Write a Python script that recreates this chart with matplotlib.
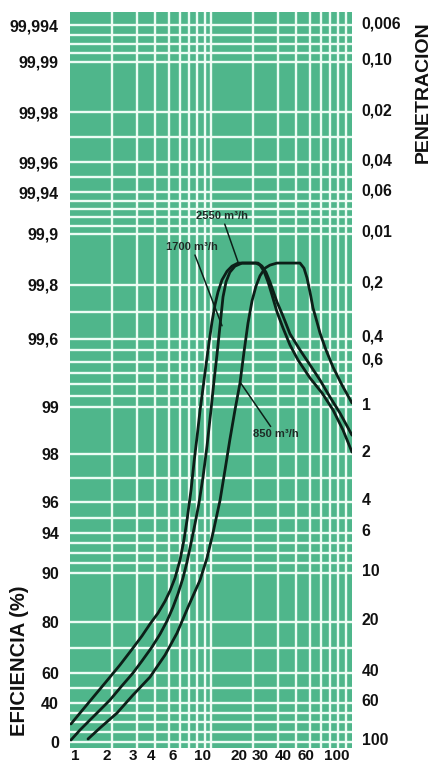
import numpy as np
import matplotlib
matplotlib.use("Agg")
import matplotlib.pyplot as plt
from matplotlib.transforms import ScaledTranslation

# ---------------- data ----------------
size_2550 = [1.016, 1.177, 1.386, 1.632, 1.921, 2.263, 2.797, 3.241, 3.693, 4.21, 4.72, 5.12,
             5.556, 6.03, 6.43, 6.76, 7.22, 7.58, 7.96, 8.37, 8.78, 9.22, 9.68, 10.16, 10.67,
             11.21, 11.97, 12.99, 14.09, 15.54, 20.85, 22.26, 23.76, 25.37, 27.08, 29.38,
             32.4, 36.33, 41.4, 50.37, 61.27, 73.3, 86.35, 100]
eff_2550 = [18.5, 29.7, 41.3, 49.3, 57.3, 63.2, 69.9, 74.7, 79.4, 81.9, 84.3, 86.4,
            89.0, 91.3, 93.3, 94.85, 96.52, 97.67, 98.36, 98.94, 99.168, 99.371, 99.565,
            99.663, 99.726, 99.774, 99.810, 99.827, 99.837, 99.843, 99.843, 99.839, 99.827,
            99.806, 99.763, 99.70, 99.641, 99.547, 99.415, 99.256, 99.124, 98.94, 98.51,
            98.04]

size_1700 = [1.016, 1.177, 1.386, 1.632, 1.921, 2.263, 2.797, 3.241, 3.815, 4.35, 4.875,
             5.377, 5.834, 6.33, 6.76, 7.22, 7.70, 8.22, 8.78, 9.37, 10.0, 10.5, 11.02, 11.6,
             12.17, 12.78, 13.6, 14.8, 16.6, 21.54, 23.0, 24.55, 26.2, 29.38, 32.4, 36.33,
             42.78, 50.37, 59.3, 69.8, 82.2, 100]
eff_1700 = [2.05, 12.3, 22.6, 32.8, 42.0, 50.0, 60.0, 64.8, 70.3, 75.4, 80.3,
            83.1, 85.8, 89.0, 91.1, 93.0, 94.6, 95.97, 97.05, 98.17, 98.94, 99.229, 99.459,
            99.652, 99.756, 99.806, 99.825, 99.837, 99.843, 99.843, 99.837, 99.825, 99.806,
            99.737, 99.685, 99.619, 99.503, 99.371, 99.238, 99.088, 98.87, 98.40]

size_850 = [1.342, 1.632, 2.154, 2.797, 3.693, 4.72, 5.74, 6.87, 8.37, 9.37, 10.33, 11.6,
            12.57, 13.6, 14.8, 16.06, 17.14, 18.3, 19.54, 20.85, 22.26, 24.15, 26.2, 29.38,
            42.78, 45.66, 47.96, 50.37, 52.9, 56.46, 59.3, 65.4, 73.3, 84.9, 100]
eff_850 = [3.1, 14.4, 29.7, 45.3, 57.3, 67.1, 75.8, 83.1, 88.6, 91.5, 94.0, 96.10,
           97.34, 98.30, 98.94, 99.212, 99.485, 99.659, 99.741, 99.796, 99.818, 99.833,
           99.839, 99.843, 99.843, 99.833, 99.814, 99.774, 99.715, 99.663, 99.622, 99.503,
           99.353, 99.194, 99.035]

curve_names = ["2550 m³/h", "1700 m³/h", "850 m³/h"]

eff_ticks = [0, 40, 60, 80, 90, 94, 96, 98, 99, 99.6, 99.8, 99.9, 99.94, 99.96, 99.98,
             99.99, 99.994]
eff_labels = ["0", "40", "60", "80", "90", "94", "96", "98", "99", "99,6", "99,8", "99,9",
              "99,94", "99,96", "99,98", "99,99", "99,994"]

pen_ticks = [100, 60, 40, 20, 10, 6, 4, 2, 1, 0.6, 0.4, 0.2, 0.1, 0.06, 0.04, 0.02, 0.01,
             0.006]
pen_labels = ["100", "60", "40", "20", "10", "6", "4", "2", "1", "0,6", "0,4", "0,2",
              "0,01", "0,06", "0,04", "0,02", "0,10", "0,006"]

size_ticks = [1, 2, 3, 4, 6, 10, 20, 30, 40, 60, 100]
size_labels = ["1", "2", "3", "4", "6", "10", "20", "30", "40", "60", "100"]

# printed lines of the chart paper
paper_h_lines = [0, 10, 20, 30, 40, 50, 60, 70, 80, 90, 91, 92, 93, 94, 95, 96, 97, 98, 99,
                 99.1, 99.2, 99.3, 99.4, 99.5, 99.6, 99.7, 99.8, 99.9, 99.908, 99.916,
                 99.924, 99.932, 99.94, 99.95, 99.96, 99.97, 99.98, 99.99, 99.991, 99.992,
                 99.993, 99.994]
paper_v_lines = [2, 3, 4, 5, 6, 7, 8, 9, 10, 20, 30, 40, 50, 60, 70, 80, 90]

# ---------------- nonlinear efficiency scale of the chart paper ----------------
SCALE_EFF = np.array([-10, 0, 40, 60, 80, 90, 94, 96, 98, 99, 99.6, 99.8, 99.9, 99.94,
                      99.96, 99.98, 99.99, 99.994, 99.997])
SCALE_POS = np.array([751.5, 742, 703, 673, 622.5, 573, 533, 502.5, 454, 407, 339, 285,
                      234, 192.5, 162.5, 112.5, 62, 25.5, -1.5])


def fwd(e):
    return -np.interp(np.asarray(e, dtype=float), SCALE_EFF, SCALE_POS)


def inv(t):
    return np.interp(-np.asarray(t, dtype=float), SCALE_POS[::-1], SCALE_EFF[::-1])


GREEN = "#4fb68b"
WHITE = "#ecfcf4"
DARK = "#0c1f18"
FONT = ["Liberation Sans", "DejaVu Sans"]
plt.rcParams["font.family"] = FONT

W, H = 435, 762
fig = plt.figure(figsize=(W / 100, H / 100), dpi=100)
fig.patch.set_facecolor("white")
ax = fig.add_axes([70 / W, (H - 748) / H, 282 / W, 736 / H])
ax.set_facecolor(GREEN)
ax.set_xscale("log")
ax.set_xlim(1, 100)
ax.set_yscale("function", functions=(fwd, inv))
ylim = (float(inv(-748)), float(inv(-12)))
ax.set_ylim(*ylim)

for v in paper_v_lines:
    ax.axvline(v, color=WHITE, lw=1.7, zorder=1)
for h in paper_h_lines:
    ax.axhline(h, color=WHITE, lw=1.7, zorder=1)

for xs, ys in [(size_2550, eff_2550), (size_1700, eff_1700), (size_850, eff_850)]:
    ax.plot(xs, ys, color=DARK, lw=2.0, zorder=3, solid_joinstyle="round",
            solid_capstyle="round")

ann_style = dict(fontsize=8, fontweight="bold", color="#1d2b25", zorder=4,
                 arrowprops=dict(arrowstyle="-", color=DARK, lw=1.1, shrinkA=0, shrinkB=0))
ax.annotate(curve_names[0], xy=(15.5, 99.846), xytext=(11.97, 99.917),
            ha="center", va="center", **ann_style)
ax.annotate(curve_names[1], xy=(11.97, 99.649), xytext=(7.33, 99.874),
            ha="center", va="center", **ann_style)
ax.annotate(curve_names[2], xy=(16.06, 99.22), xytext=(28.9, 98.42),
            ha="center", va="center", **ann_style)

for s in ax.spines.values():
    s.set_visible(False)

ax.set_xticks(size_ticks, size_labels)
ax.xaxis.set_minor_locator(matplotlib.ticker.NullLocator())
ax.set_yticks(eff_ticks, eff_labels)
ax.yaxis.set_minor_locator(matplotlib.ticker.NullLocator())
ax.tick_params(axis="both", length=0, labelsize=11.5, colors="#111111")
ax.tick_params(axis="x", pad=1, labelsize=11)
ax.tick_params(axis="y", pad=8)
for lab in ax.get_xticklabels() + ax.get_yticklabels():
    lab.set_fontweight("bold")

# nudge x tick labels to where the printed ones sit
x_nudge = [5, -6, -4, -4, -7, -8, -14, -18, -13, -15, -15]
for lab, dx in zip(ax.get_xticklabels(), x_nudge):
    lab.set_transform(lab.get_transform() + ScaledTranslation(dx / 100, 0, fig.dpi_scale_trans))

ax2 = ax.twinx()
ax2.set_yscale("function", functions=(fwd, inv))
ax2.set_ylim(*ylim)
ax2.set_yticks([100 - p for p in pen_ticks], pen_labels)
ax2.yaxis.set_minor_locator(matplotlib.ticker.NullLocator())
ax2.tick_params(axis="y", length=0, labelsize=11.3, colors="#111111", pad=7)
for s in ax2.spines.values():
    s.set_visible(False)
for lab in ax2.get_yticklabels():
    lab.set_fontweight("bold")
    lab.set_transform(lab.get_transform() + ScaledTranslation(0, 3 / 100, fig.dpi_scale_trans))

fig.text(20 / W, 1 - 661 / H, "EFICIENCIA (%)", rotation=90, ha="center", va="center",
         fontsize=14.5, fontweight="bold", color="#111111")
fig.text(423 / W, 1 - 92 / H, "PENETRACION", rotation=90, ha="center", va="center",
         fontsize=14, fontweight="bold", color="#111111")

fig.savefig("out.png", dpi=100)
